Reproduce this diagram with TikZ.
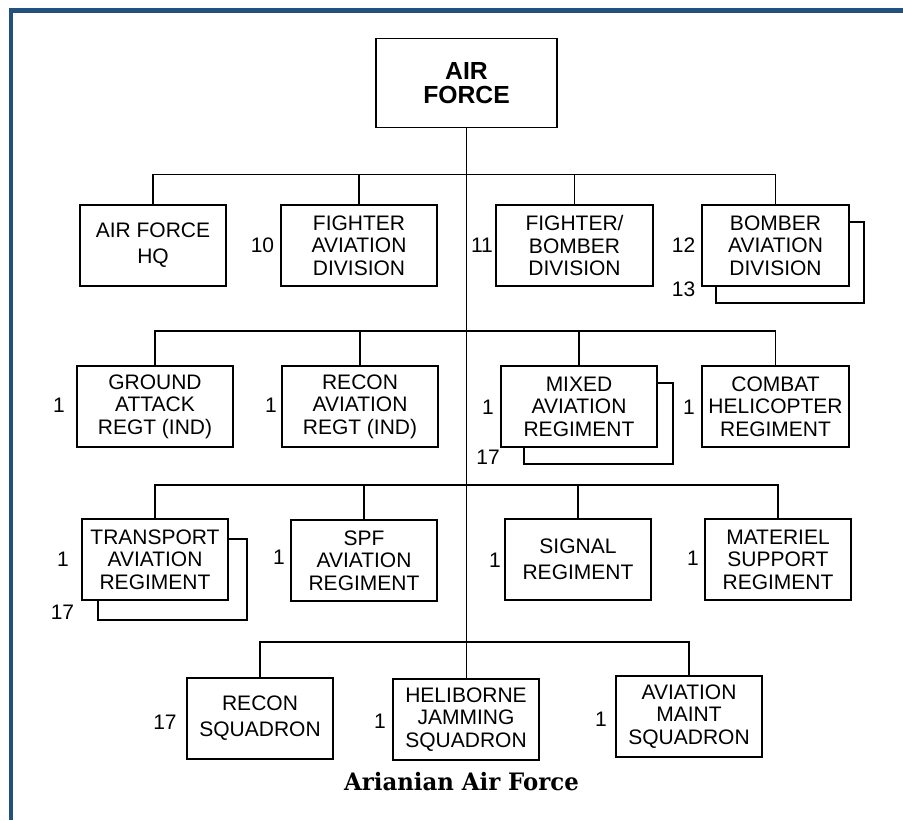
\documentclass[tikz,border=0pt]{standalone}
\usepackage{fontspec}
\setmainfont{Liberation Sans}
\newfontfamily\capfont[FakeStretch=0.95]{DejaVu Serif}
\definecolor{framebl}{RGB}{36,80,128}
\begin{document}
\begin{tikzpicture}[x=1pt, y=-1pt,
  unit/.style={draw, line width=1.4pt, fill=white, inner sep=0pt, align=center, minimum width=146pt, minimum height=81pt, font=\fontsize{21}{22.5}\selectfont},
  twoline/.style={font=\fontsize{21}{26}\selectfont},
  num/.style={inner sep=0pt, font=\fontsize{21}{22.5}\selectfont},
  link/.style={line width=1.3pt}]
\useasboundingbox (0,0) rectangle (903,820);
\draw[framebl, line width=4.5pt] (11,820) -- (11,10.5) -- (903,10.5);

\node[unit, minimum width=181pt, minimum height=89pt, font=\fontsize{24.7}{23.5}\selectfont\bfseries] (af) at (466.5,83) {AIR\\FORCE};

\draw[link] (716,222) rectangle (864,303);
\node[unit, twoline] (hq) at (153,245.5) {AIR FORCE\\HQ};
\node[unit, minimum width=156pt] (fad) at (359,245.5) {FIGHTER\\AVIATION\\DIVISION};
\node[unit, minimum width=157pt] (fbd) at (574.5,245.5) {FIGHTER/\\BOMBER\\DIVISION};
\node[unit, minimum width=147pt] (bad) at (775.5,245.5) {BOMBER\\AVIATION\\DIVISION};

\draw[link] (524,383) rectangle (673,464);
\node[unit, minimum width=156pt] (gar) at (155,406.5) {GROUND\\ATTACK\\REGT (IND)};
\node[unit, minimum width=156pt] (rar) at (360,406.5) {RECON\\AVIATION\\REGT (IND)};
\node[unit, minimum width=156pt] (mar) at (579,406.5) {MIXED\\AVIATION\\REGIMENT};
\node[unit, minimum width=147pt] (chr) at (775.5,406.5) {COMBAT\\HELICOPTER\\REGIMENT};

\draw[link] (98,539) rectangle (247,620);
\node[unit] (tar) at (155,559.5) {TRANSPORT\\AVIATION\\REGIMENT};
\node[unit] (spf) at (364,560.5) {SPF\\AVIATION\\REGIMENT};
\node[unit, twoline] (sig) at (578,559.5) {SIGNAL\\REGIMENT};
\node[unit] (msr) at (778,559.5) {MATERIEL\\SUPPORT\\REGIMENT};

\node[unit, twoline] (rsq) at (260,718.5) {RECON\\SQUADRON};
\node[unit] (hjs) at (466,719.5) {HELIBORNE\\JAMMING\\SQUADRON};
\node[unit] (ams) at (689,716.5) {AVIATION\\MAINT\\SQUADRON};

\coordinate (r1) at (0,174.5);
\coordinate (r2) at (0,331);
\coordinate (r3) at (0,485);
\coordinate (r4) at (0,642);
\draw[link] (af.south) -- (af.south |- hjs.north);
\draw[link] (hq.north) |- (bad.north |- r1) -- (bad.north);
\draw[link] (gar.north) |- (chr.north |- r2) -- (chr.north);
\draw[link] (tar.north) |- (msr.north |- r3) -- (msr.north);
\draw[link] (rsq.north) |- (ams.north |- r4) -- (ams.north);
\foreach \n/\r in {fad/r1, fbd/r1, rar/r2, mar/r2, spf/r3, sig/r3}
  \draw[link] (\n.north) -- (\n.north |- \r);

\node[num] (n10) at (262.5,245) {10};
\node[num] (n11) at (482,245) {11};
\node[num] (n12) at (683.5,245) {12};
\node[num] (n13) at (683.5,289) {13};
\node[num] (ngar) at (59,405) {1};
\node[num] (nrar) at (271,405) {1};
\node[num] (nmar) at (488,407) {1};
\node[num] (nmar2) at (488,457) {17};
\node[num] (nchr) at (689,407) {1};
\node[num] (ntar) at (63,559) {1};
\node[num] (ntar2) at (62.5,612) {17};
\node[num] (nspf) at (279,557) {1};
\node[num] (nsig) at (495,560) {1};
\node[num] (nmsr) at (693,558) {1};
\node[num] (nrsq) at (165,722) {17};
\node[num] (nhjs) at (380,721) {1};
\node[num] (nams) at (601,719) {1};

\node[inner sep=0pt, font=\capfont\fontsize{24}{26}\selectfont\bfseries] (cap) at (461.5,781.5) {Arianian Air Force};
\end{tikzpicture}
\end{document}
